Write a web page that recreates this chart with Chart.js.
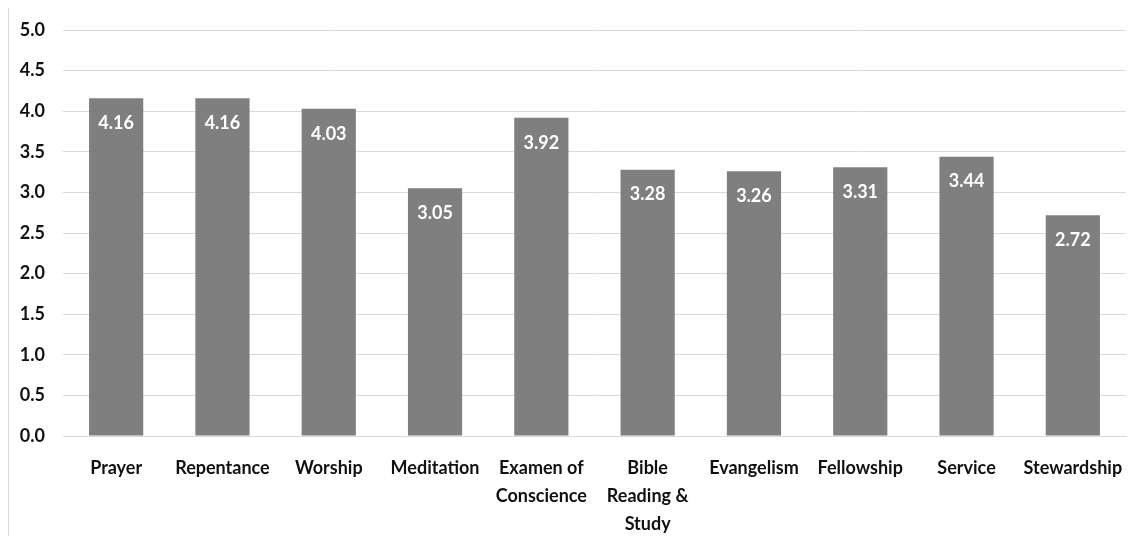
<!DOCTYPE html>
<html>
<head>
<meta charset="utf-8">
<script src="https://cdn.jsdelivr.net/npm/chart.js@4"></script>
<style>
  body { margin: 0; background: #fff; }
  #wrap { position: relative; width: 1141px; height: 536px; }
  #frame { position: absolute; left: 8px; top: 8px; bottom: 0; border-left: 1px solid #d9d9d9; }
</style>
</head>
<body>
<div id="wrap">
  <div id="frame"></div>
  <canvas id="grafico" width="1141" height="536"></canvas>
</div>
<script>
const categorias = [
  "Prayer", "Repentance", "Worship", "Meditation", ["Examen of", "Conscience"],
  ["Bible", "Reading &", "Study"], "Evangelism", "Fellowship", "Service", "Stewardship"
];
const medias = [4.16, 4.16, 4.03, 3.05, 3.92, 3.28, 3.26, 3.31, 3.44, 2.72];
const ticksY = [0, 0.5, 1, 1.5, 2, 2.5, 3, 3.5, 4, 4.5, 5];

const fonte = "Lato";

// rótulos brancos dentro do topo das barras
const rotulos = {
  id: "rotulos",
  afterDatasetsDraw(chart) {
    const ctx = chart.ctx;
    const meta = chart.getDatasetMeta(0);
    ctx.save();
    ctx.fillStyle = "#ffffff";
    ctx.font = "bold 18px " + fonte;
    ctx.textAlign = "center";
    ctx.textBaseline = "middle";
    meta.data.forEach((bar, i) => {
      ctx.fillText(medias[i].toFixed(2), bar.x, bar.y + 25);
    });
    ctx.restore();
  }
};

const config = {
  type: "bar",
  data: {
    labels: categorias,
    datasets: [
      {
        data: medias,
        backgroundColor: "#7f7f7f",
        borderWidth: 0,
        barPercentage: 1,
        categoryPercentage: 0.51
      }
    ]
  },
  options: {
    responsive: false,
    animation: false,
    layout: { padding: { top: 30, right: 15, left: 0, bottom: 0 } },
    plugins: {
      legend: { display: false },
      tooltip: { enabled: false }
    },
    scales: {
      y: {
        min: 0,
        max: 5,
        afterBuildTicks: (s) => { s.ticks = ticksY.map(v => ({ value: v })); },
        afterFit: (s) => { s.width = 63; },
        border: { display: false },
        grid: { color: "#d9d9d9", lineWidth: 1, drawTicks: false },
        ticks: {
          padding: 18,
          color: "#111111",
          font: { family: fonte, size: 18, weight: "bold" },
          callback: (v) => Number(v).toFixed(1)
        }
      },
      x: {
        afterFit: (s) => { s.height = 100; },
        border: { color: "#d9d9d9" },
        grid: { display: false },
        ticks: {
          padding: 10,
          color: "#111111",
          maxRotation: 0,
          autoSkip: false,
          font: { family: fonte, size: 18, weight: "bold", lineHeight: "28px" }
        }
      }
    }
  },
  plugins: [rotulos]
};

const grafico = new Chart(document.getElementById("grafico"), config);
</script>
</body>
</html>
